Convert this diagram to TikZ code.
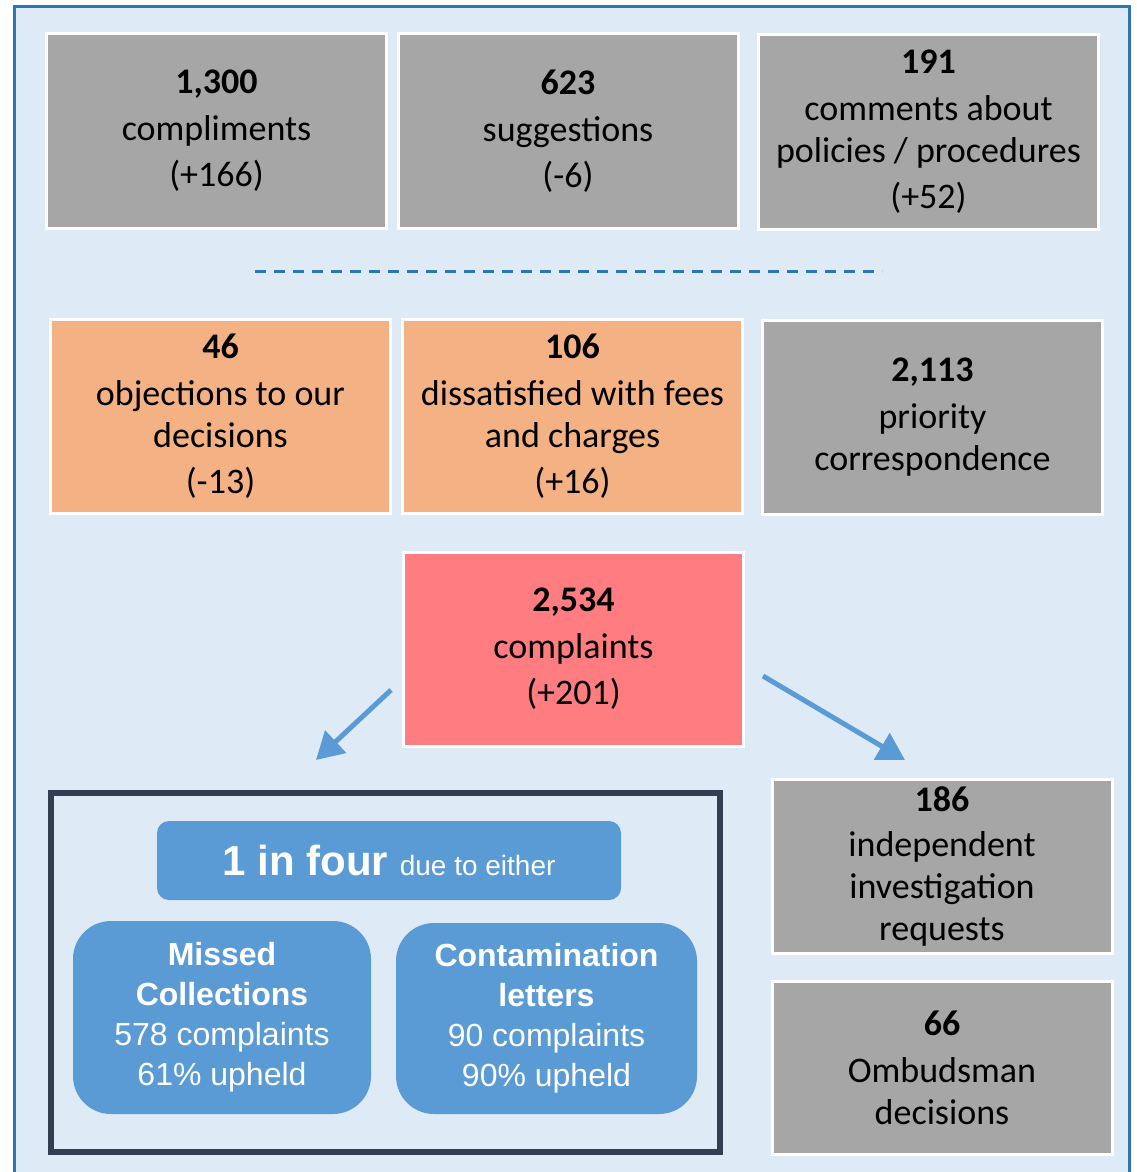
\documentclass[tikz,border=0pt]{standalone}
\usepackage{fontspec}
\setmainfont{Carlito}
\newfontfamily\arialf{Liberation Sans}
\usetikzlibrary{arrows.meta}
\definecolor{bgblue}{HTML}{DEEAF6}
\definecolor{frameblue}{HTML}{2E75B6}
\definecolor{midblue}{HTML}{5B9BD5}
\definecolor{cardgray}{HTML}{A6A6A6}
\definecolor{cardorange}{HTML}{F4B183}
\definecolor{cardred}{HTML}{FF7C80}
\definecolor{darkframe}{HTML}{333F50}
\begin{document}
\begin{tikzpicture}[x=1pt,y=-1pt,
  card/.style={draw=white, line width=3pt, inner sep=0pt, align=center,
    minimum width=340pt, font=\fontsize{36}{42}\selectfont, text=black},
  pill/.style={fill=midblue, draw=none, inner sep=0pt, align=center,
    text=white, font=\arialf\fontsize{32}{40}\selectfont},
  flow/.style={draw=midblue, line width=5pt, -{Triangle[length=27pt,width=30pt]}}
]
\useasboundingbox (0,0) rectangle (1136,1172);
\clip (0,0) rectangle (1136,1172);
\fill[white] (0,0) rectangle (1136,1172);
\draw[fill=bgblue, draw=frameblue, line width=3pt] (14.5,6.5) rectangle (1129,1190);

% top row
\node[card, fill=cardgray, minimum height=194pt] (compl) at (216.5,131)
  {\textbf{1,300}\\[5pt]compliments\\[4pt](+166)};
\node[card, fill=cardgray, minimum height=194pt] (sugg) at (568,131)
  {\textbf{623}\\[5pt]suggestions\\[4pt](-6)};
\node[card, fill=cardgray, minimum height=194pt] (policy) at (928.5,132)
  {\textbf{191}\\[5pt]comments about\\policies / procedures\\[4pt](+52)};

% dashed separator
\coordinate (dashL) at (255,271);
\coordinate (dashR) at (882,271);
\draw[frameblue, line width=3pt, dash pattern=on 11pt off 8pt] (dashL) -- (dashR);

% middle row
\node[card, fill=cardorange, minimum height=194pt] (object) at (220.5,416)
  {\textbf{46}\\[5pt]objections to our\\decisions\\[4pt](-13)};
\node[card, fill=cardorange, minimum height=194pt] (fees) at (572.5,416)
  {\textbf{106}\\[5pt]dissatisfied with fees\\and charges\\[4pt](+16)};
\node[card, fill=cardgray, minimum height=194pt] (prio) at (932.5,417)
  {\textbf{2,113}\\[5pt]priority\\correspondence};

% complaints
\node[card, fill=cardred, minimum height=194pt] (complaints) at (573.5,649)
  {\textbf{2,534}\\[5pt]complaints\\[4pt](+201)};

% group frame
\node[draw=darkframe, line width=6pt, minimum width=669pt, minimum height=359pt, inner sep=0pt]
  (group) at (385.5,972.5) {};
\node[pill, rounded corners=12pt, minimum width=464pt, minimum height=79pt] (onefour) at (389,860.5)
  {\fontsize{42}{48}\selectfont\bfseries 1 in four \fontsize{28}{32}\mdseries\selectfont due to either};
\node[pill, rounded corners=38pt, minimum width=298pt, minimum height=193pt] (missed) at (222,1017.5)
  {\bfseries Missed\\\bfseries Collections\\578 complaints\\61\% upheld};
\node[pill, rounded corners=38pt, minimum width=301pt, minimum height=191pt] (contam) at (546.5,1018.5)
  {\bfseries Contamination\\\bfseries letters\\90 complaints\\90\% upheld};

% right column
\node[card, fill=cardgray, minimum height=174pt] (indep) at (942,866)
  {\textbf{186}\\[3pt]independent\\investigation\\requests};
\node[card, fill=cardgray, minimum height=173pt] (ombud) at (942,1067.5)
  {\textbf{66}\\[5pt]Ombudsman\\decisions};

% arrows
\coordinate (aLs) at (391,690);
\coordinate (aLe) at (316,760);
\coordinate (aRs) at (763,676);
\coordinate (aRe) at (905,760);
\draw[flow] (aLs) -- (aLe);
\draw[flow] (aRs) -- (aRe);
\end{tikzpicture}
\end{document}
